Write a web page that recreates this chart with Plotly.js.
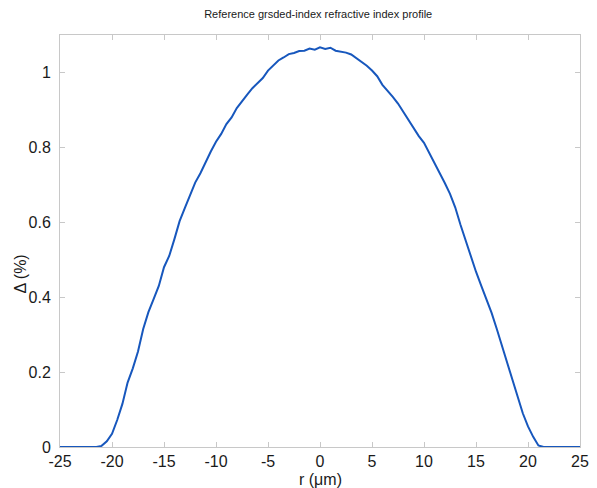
<!DOCTYPE html>
<html>
<head>
<meta charset="utf-8">
<script src="https://cdn.plot.ly/plotly-3.0.1.min.js"></script>
<style>
html,body{margin:0;padding:0;background:#fff;}
#chart{width:597px;height:488px;}
</style>
</head>
<body>
<div id="chart"></div>
<script>
const radius = [
  -25,-24.5,-24,-23.5,-23,-22.5,-22,-21.5,-21,-20.5,-20,-19.5,-19,-18.5,-18,-17.5,-17,-16.5,-16,-15.5,
  -15,-14.5,-14,-13.5,-13,-12.5,-12,-11.5,-11,-10.5,-10,-9.5,-9,-8.5,-8,-7.5,-7,-6.5,-6,-5.5,
  -5,-4.5,-4,-3.5,-3,-2.5,-2,-1.5,-1,-0.5,0,0.5,1,1.5,2,2.5,3,3.5,4,4.5,
  5,5.5,6,6.5,7,7.5,8,8.5,9,9.5,10,10.5,11,11.5,12,12.5,13,13.5,14,14.5,
  15,15.5,16,16.5,17,17.5,18,18.5,19,19.5,20,20.5,21,21.5,22,22.5,23,23.5,24,24.5,25
];
const delta = [
  0,0,0,0,0,0,0,0,0.003,0.015,0.035,0.072,0.115,0.172,0.21,0.255,0.315,0.36,0.395,0.43,
  0.48,0.51,0.555,0.603,0.638,0.672,0.706,0.731,0.762,0.789,0.815,0.836,0.862,0.88,0.905,0.924,0.941,0.958,0.971,0.985,
  1.005,1.018,1.032,1.04,1.049,1.052,1.057,1.058,1.064,1.061,1.067,1.063,1.066,1.058,1.056,1.053,1.048,1.038,1.029,1.018,
  1.005,0.99,0.967,0.952,0.935,0.917,0.895,0.873,0.853,0.83,0.812,0.786,0.76,0.732,0.705,0.676,0.64,0.594,0.552,0.508,
  0.468,0.431,0.394,0.358,0.315,0.27,0.222,0.178,0.136,0.09,0.055,0.027,0.004,0,0,0,0,0,0,0,0
];
const xTicks = [-25,-20,-15,-10,-5,0,5,10,15,20,25];
const yTicks = [0,0.2,0.4,0.6,0.8,1];
const yTickText = ['0','0.2','0.4','0.6','0.8','1'];
const xLabel = 'r (μm)';
const yLabel = 'Δ (%)';

const font = 'Liberation Sans, Arial, sans-serif';
const axisCommon = {
  showgrid:false, zeroline:false, showline:true, mirror:'ticks',
  linecolor:'#c8c8c8', linewidth:1, ticks:'inside', ticklen:5, tickcolor:'#c8c8c8',
  tickfont:{family:font,size:16,color:'#1a1a1a'}, fixedrange:true
};
Plotly.newPlot('chart',[{
  x: radius, y: delta, type:'scatter', mode:'lines',
  line:{color:'#1757bd', width:2}
}],{
  width:597, height:488,
  margin:{l:60,r:17,t:35,b:41},
  paper_bgcolor:'#fff', plot_bgcolor:'#fff',
  showlegend:false,
  title:{text:'Reference grsded-index refractive index profile', font:{family:font,size:11,color:'#1a1a1a'}, x:0.533, xanchor:'center', y:0.972, yanchor:'middle'},
  xaxis:Object.assign({}, axisCommon, {range:[-25,25], tickvals:xTicks, ticktext:xTicks.map(String), ticklabelstandoff:0}),
  yaxis:Object.assign({}, axisCommon, {range:[0,1.1], tickvals:yTicks, ticktext:yTickText, ticklabelstandoff:5}),
  annotations:[
    {text:xLabel, xref:'paper', yref:'paper', x:0.5, y:-0.078, xanchor:'center', yanchor:'middle', showarrow:false,
     font:{family:font,size:16,color:'#1a1a1a'}},
    {text:yLabel, xref:'paper', yref:'paper', x:-0.076, y:0.42, xanchor:'center', yanchor:'middle', textangle:-90, showarrow:false,
     font:{family:font,size:16,color:'#1a1a1a'}}
  ]
},{displayModeBar:false, staticPlot:true});
</script>
</body>
</html>
